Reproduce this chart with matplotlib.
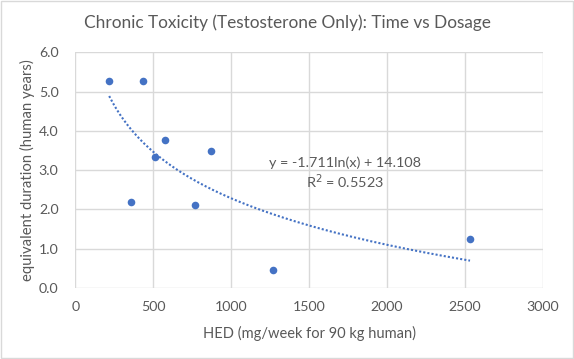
import numpy as np
import matplotlib
matplotlib.use("Agg")
import matplotlib.pyplot as plt
import matplotlib.patches as pt

# HED (mg/week) vs equivalent duration (human years)
hed = [218, 436, 359, 513, 577, 872, 769, 1269, 2532]
duration = [5.26, 5.26, 2.18, 3.33, 3.78, 3.50, 2.10, 0.45, 1.24]
x_ticks = [0, 500, 1000, 1500, 2000, 2500, 3000]
y_ticks = [0.0, 1.0, 2.0, 3.0, 4.0, 5.0, 6.0]

txt = "#595959"
grid = "#d9d9d9"
blue = "#4472C4"

plt.rcParams['font.family'] = ['Lato', 'DejaVu Sans']

fig = plt.figure(figsize=(5.74, 3.59), dpi=100)
ax = fig.add_axes([0.131, 0.198, 0.815, 0.656])

ax.scatter(hed, duration, s=30, color=blue, zorder=3, linewidths=0)

# logarithmic trendline
xs = np.array(hed, dtype=float)
m, b = np.polyfit(np.log(xs), np.array(duration), 1)
xx = np.linspace(xs.min(), xs.max(), 300)
ax.plot(xx, m * np.log(xx) + b, color=blue, linestyle=(0, (1, 1)), linewidth=1.5, zorder=2)

ax.text(1730, 3.20, "y = -1.711ln(x) + 14.108", ha="center", va="center", fontsize=10.4, color=txt)
ax.text(1730, 2.70, "R$^2$ = 0.5523", ha="center", va="center", fontsize=10.4, color=txt)

ax.set_xlim(0, 3000)
ax.set_ylim(0, 6)
ax.set_xticks(x_ticks)
ax.set_yticks(y_ticks)
ax.set_yticklabels(["%.1f" % v for v in y_ticks])
ax.grid(True, color=grid, linewidth=1)
ax.set_axisbelow(True)
for s in ax.spines.values():
	s.set_visible(False)
ax.tick_params(length=0, colors=txt, labelsize=10.2)
ax.tick_params(axis="x", pad=9.5)
ax.tick_params(axis="y", pad=12)

ax.set_xlabel("HED (mg/week for 90 kg human)", fontsize=10.5, color=txt, labelpad=9.5)
ax.set_ylabel("equivalent duration (human years)", fontsize=10.7, color=txt, labelpad=3)
fig.text(0.5, 0.936, "Chronic Toxicity (Testosterone Only): Time vs Dosage", ha="center", va="center", fontsize=12.4, color=txt)

fig.patches.append(pt.Rectangle((0.001, 0.002), 0.997, 0.995, transform=fig.transFigure,
	fill=False, edgecolor=grid, linewidth=1))

fig.savefig("out.png", dpi=100)
